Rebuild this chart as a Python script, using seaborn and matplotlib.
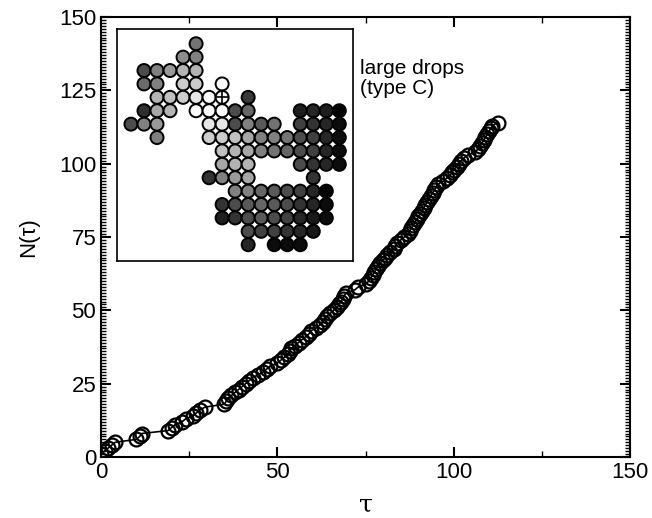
import numpy as np
import pandas as pd
import matplotlib
matplotlib.use("Agg")
import matplotlib.pyplot as plt
from matplotlib.ticker import MultipleLocator
import seaborn as sns

## growth curve: number of drops N vs time tau
n_drops = list(range(1, 115))
tau = [0, 1, 2, 3, 4, 10, 11, 11.5, 19, 20,
       21, 23, 24, 26, 27, 28, 29.5, 35, 35.5, 36,
       37, 38, 39, 40, 41, 42, 43, 44.5, 46, 47,
       48, 50, 51, 52, 53, 53.5, 54, 55, 56, 57,
       58, 59, 59.5, 61, 62, 63, 63.5, 64, 65, 66,
       67, 67.5, 68, 68.5, 69, 69.5, 72, 73, 75, 76,
       76.5, 77, 77.5, 78, 78.5, 79, 80, 80.5, 81, 82,
       83, 83.5, 84, 85, 86, 87, 87.5, 88, 88.5, 89,
       89.5, 90, 90.5, 91, 91.5, 92, 92.5, 93, 93.5, 94,
       94.5, 95, 95.5, 97, 98, 99, 99.5, 100, 101, 101.5,
       102, 103, 104, 106, 107, 107.5, 108, 108.5, 109, 109.5,
       110, 110.5, 111, 112.5]

## inset: drop lattice (row, col, grey level 0=black 1=white)
drop_rows = [0, 1, 1,
             2, 2, 2, 2, 2,
             3, 3, 3, 3, 3,
             4, 4, 4, 4, 4, 4, 4,
             5, 5, 5, 5, 5, 5, 5, 5, 5, 5, 5, 5,
             6, 6, 6, 6, 6, 6, 6, 6, 6, 6, 6, 6, 6,
             7, 7, 7, 7, 7, 7, 7, 7, 7, 7, 7, 7,
             8, 8, 8, 8, 8, 8, 8, 8, 8, 8,
             9, 9, 9, 9, 9, 9, 9,
             10, 10, 10, 10, 10,
             11, 11, 11, 11, 11, 11, 11, 11,
             12, 12, 12, 12, 12, 12, 12, 12, 12,
             13, 13, 13, 13, 13, 13, 13, 13, 13,
             14, 14, 14, 14, 14, 14,
             15, 15, 15, 15]
drop_cols = [5, 4, 5,
             1, 2, 3, 4, 5,
             1, 2, 4, 5, 7,
             2, 3, 4, 5, 6, 7, 9,
             1, 2, 3, 5, 6, 7, 8, 9, 13, 14, 15, 16,
             0, 1, 2, 6, 7, 8, 9, 10, 11, 13, 14, 15, 16,
             2, 6, 7, 8, 9, 10, 11, 12, 13, 14, 15, 16,
             7, 8, 9, 10, 11, 12, 13, 14, 15, 16,
             7, 8, 9, 13, 14, 15, 16,
             6, 7, 8, 9, 14,
             8, 9, 10, 11, 12, 13, 14, 15,
             7, 8, 9, 10, 11, 12, 13, 14, 15,
             7, 8, 9, 10, 11, 12, 13, 14, 15,
             9, 10, 11, 12, 13, 14,
             9, 11, 12, 13]
drop_grey = [0.45, 0.55, 0.5,
             0.3, 0.5, 0.6, 0.7, 0.7,
             0.42, 0.5, 0.8, 0.8, 0.97,
             0.7, 0.75, 0.8, 0.9, 0.97, 0.98, 0.22,
             0.18, 0.65, 0.7, 0.97, 0.97, 0.97, 0.3, 0.4, 0.12, 0.15, 0.12, 0.0,
             0.3, 0.5, 0.6, 0.9, 0.9, 0.3, 0.5, 0.35, 0.45, 0.25, 0.2, 0.15, 0.05,
             0.5, 0.8, 0.8, 0.75, 0.65, 0.5, 0.5, 0.45, 0.3, 0.25, 0.15, 0.05,
             0.75, 0.7, 0.65, 0.5, 0.45, 0.4, 0.3, 0.25, 0.15, 0.05,
             0.65, 0.7, 0.7, 0.3, 0.2, 0.15, 0.05,
             0.2, 0.5, 0.6, 0.65, 0.2,
             0.5, 0.5, 0.4, 0.35, 0.3, 0.25, 0.15, 0.0,
             0.2, 0.3, 0.35, 0.4, 0.35, 0.3, 0.2, 0.15, 0.05,
             0.12, 0.2, 0.3, 0.35, 0.3, 0.25, 0.15, 0.1, 0.05,
             0.3, 0.25, 0.25, 0.2, 0.15, 0.1,
             0.15, 0.05, 0.05, 0.05]
seed_row, seed_col = 4, 7

sns.set_style("ticks")
plt.rcParams["font.family"] = ["Liberation Sans", "DejaVu Sans"]
plt.rcParams["xtick.direction"] = "in"
plt.rcParams["ytick.direction"] = "in"
for k in ["text.color", "axes.labelcolor", "xtick.color", "ytick.color", "axes.edgecolor"]:
    plt.rcParams[k] = "black"

df = pd.DataFrame({"tau": tau, "N": n_drops})
df_drops = pd.DataFrame({"row": drop_rows, "col": drop_cols, "grey": drop_grey})

fig = plt.figure(figsize=(6.52, 5.18), dpi=100)
ax = fig.add_axes([0.1549, 0.1178, 0.8114, 0.8494])

sns.lineplot(data=df, x="tau", y="N", color="black", lw=1.2, ax=ax, sort=False)
ax.plot(df.tau, df.N, ls="none", marker="o", ms=10, mfc="none", mec="black", mew=1.6)

ax.set_xlim(0, 150)
ax.set_ylim(0, 150)
ax.xaxis.set_major_locator(MultipleLocator(50))
ax.xaxis.set_minor_locator(MultipleLocator(25))
ax.yaxis.set_major_locator(MultipleLocator(25))
ax.yaxis.set_minor_locator(MultipleLocator(1))
ax.tick_params(which="both", top=True, right=True, labelsize=16, width=1.5)
ax.tick_params(which="major", length=7)
ax.tick_params(which="minor", length=3.5, width=1)
ax.tick_params(axis="x", which="minor", length=4)
for sp in ax.spines.values():
    sp.set_linewidth(1.5)
ax.set_xlabel("τ", fontsize=18, family=["DejaVu Serif"], labelpad=8)
ax.set_ylabel("N(τ)", fontsize=16, labelpad=14)

ax.text(0.49, 0.905, "large drops\n(type C)", transform=ax.transAxes,
        fontsize=15, va="top", ha="left", linespacing=1.05)

## inset
axi = fig.add_axes([0.1794, 0.496, 0.362, 0.448])
sns.scatterplot(data=df_drops, x="col", y="row", hue="grey", palette="gray",
                hue_norm=(0, 1), s=88, edgecolor="black", linewidth=1.4,
                legend=False, ax=axi)
axi.plot([seed_col], [seed_row], ls="none", marker="+", ms=9, mew=1.2, color="black")
axi.set_xlim(-1.075, 17.05)
axi.set_ylim(16.22, -1.1)
axi.set_xticks([])
axi.set_yticks([])
axi.set_xlabel("")
axi.set_ylabel("")
for sp in axi.spines.values():
    sp.set_linewidth(1.2)

fig.savefig("out.png", dpi=100)
